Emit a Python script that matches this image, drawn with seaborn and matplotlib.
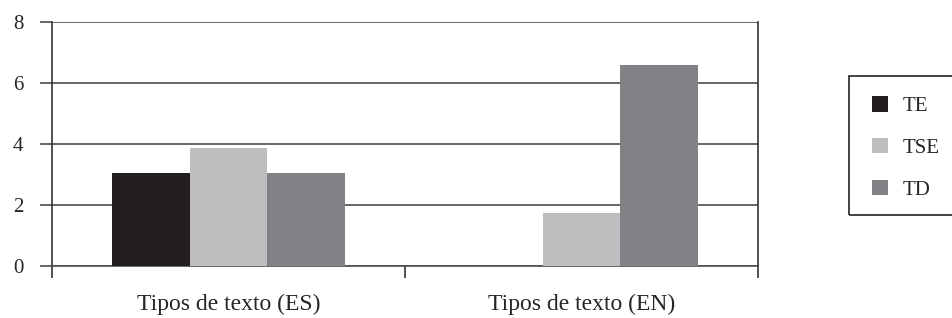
import pandas as pd
import seaborn as sns
import matplotlib.pyplot as plt
from matplotlib.patches import Rectangle

categorias = ["Tipos de texto (ES)", "Tipos de texto (EN)"]
series = ["TE", "TSE", "TD"]
valores_es = [3.05, 3.87, 3.05]
valores_en = [0.0, 1.74, 6.58]
colores = ["#231f20", "#bcbec0", "#808285"]

filas = []
for s, v in zip(series, valores_es):
    filas.append({"cat": categorias[0], "serie": s, "valor": v})
for s, v in zip(series, valores_en):
    filas.append({"cat": categorias[1], "serie": s, "valor": v})
df = pd.DataFrame(filas)

sns.set_style("white")
plt.rcParams['font.family'] = ['Liberation Serif', 'DejaVu Serif']

fig = plt.figure(figsize=(9.52, 3.18), dpi=100)
ax = fig.add_axes([52/952, 1-266/318, (758-52)/952, (266-22)/318])

sns.barplot(data=df, x="cat", y="valor", hue="serie", palette=colores,
            width=0.66, ax=ax, saturation=1, legend=True, zorder=3,
            linewidth=0, edgecolor="none")

ax.set_ylim(0, 8)
ax.set_xlim(-0.5, 1.5)
ax.set_yticks([0, 2, 4, 6, 8])
ax.yaxis.grid(True, color="#4d4d4d", linewidth=1.2, zorder=0)
ax.set_axisbelow(True)
ax.tick_params(axis="y", direction="out", length=8.6, width=1.2, color="#4d4d4d",
               labelsize=15, pad=12, left=True)
ax.set_xticks([-0.5, 0.5, 1.5], minor=True)
ax.tick_params(axis="x", which="minor", direction="out", length=8.6, width=1.2,
               color="#333333", bottom=True)
ax.tick_params(axis="x", which="major", length=0, labelsize=17, pad=20)
ax.set_xlabel("")
ax.set_ylabel("")
for sp in ["left", "right", "bottom"]:
    ax.spines[sp].set_color("#333333")
    ax.spines[sp].set_linewidth(1.2)
ax.spines["top"].set_visible(False)
ax.spines["bottom"].set_color("#4d4d4d")

# legend box runs off the right edge, like the original
h, l = ax.get_legend_handles_labels()
ax.get_legend().remove()
leg = fig.legend(h, l, loc="upper left", bbox_to_anchor=(872/952, 1-96/318),
                 fontsize=15, frameon=False,
                 handlelength=0.77, handleheight=0.77, handletextpad=0.72,
                 labelspacing=1.05, borderpad=0, borderaxespad=0)
fig.patches.append(Rectangle((849/952, 1-215/318), 120/952, (215-76)/318,
                             transform=fig.transFigure, fill=False,
                             edgecolor="#222222", linewidth=1.2))

fig.savefig("out.png", dpi=100)
